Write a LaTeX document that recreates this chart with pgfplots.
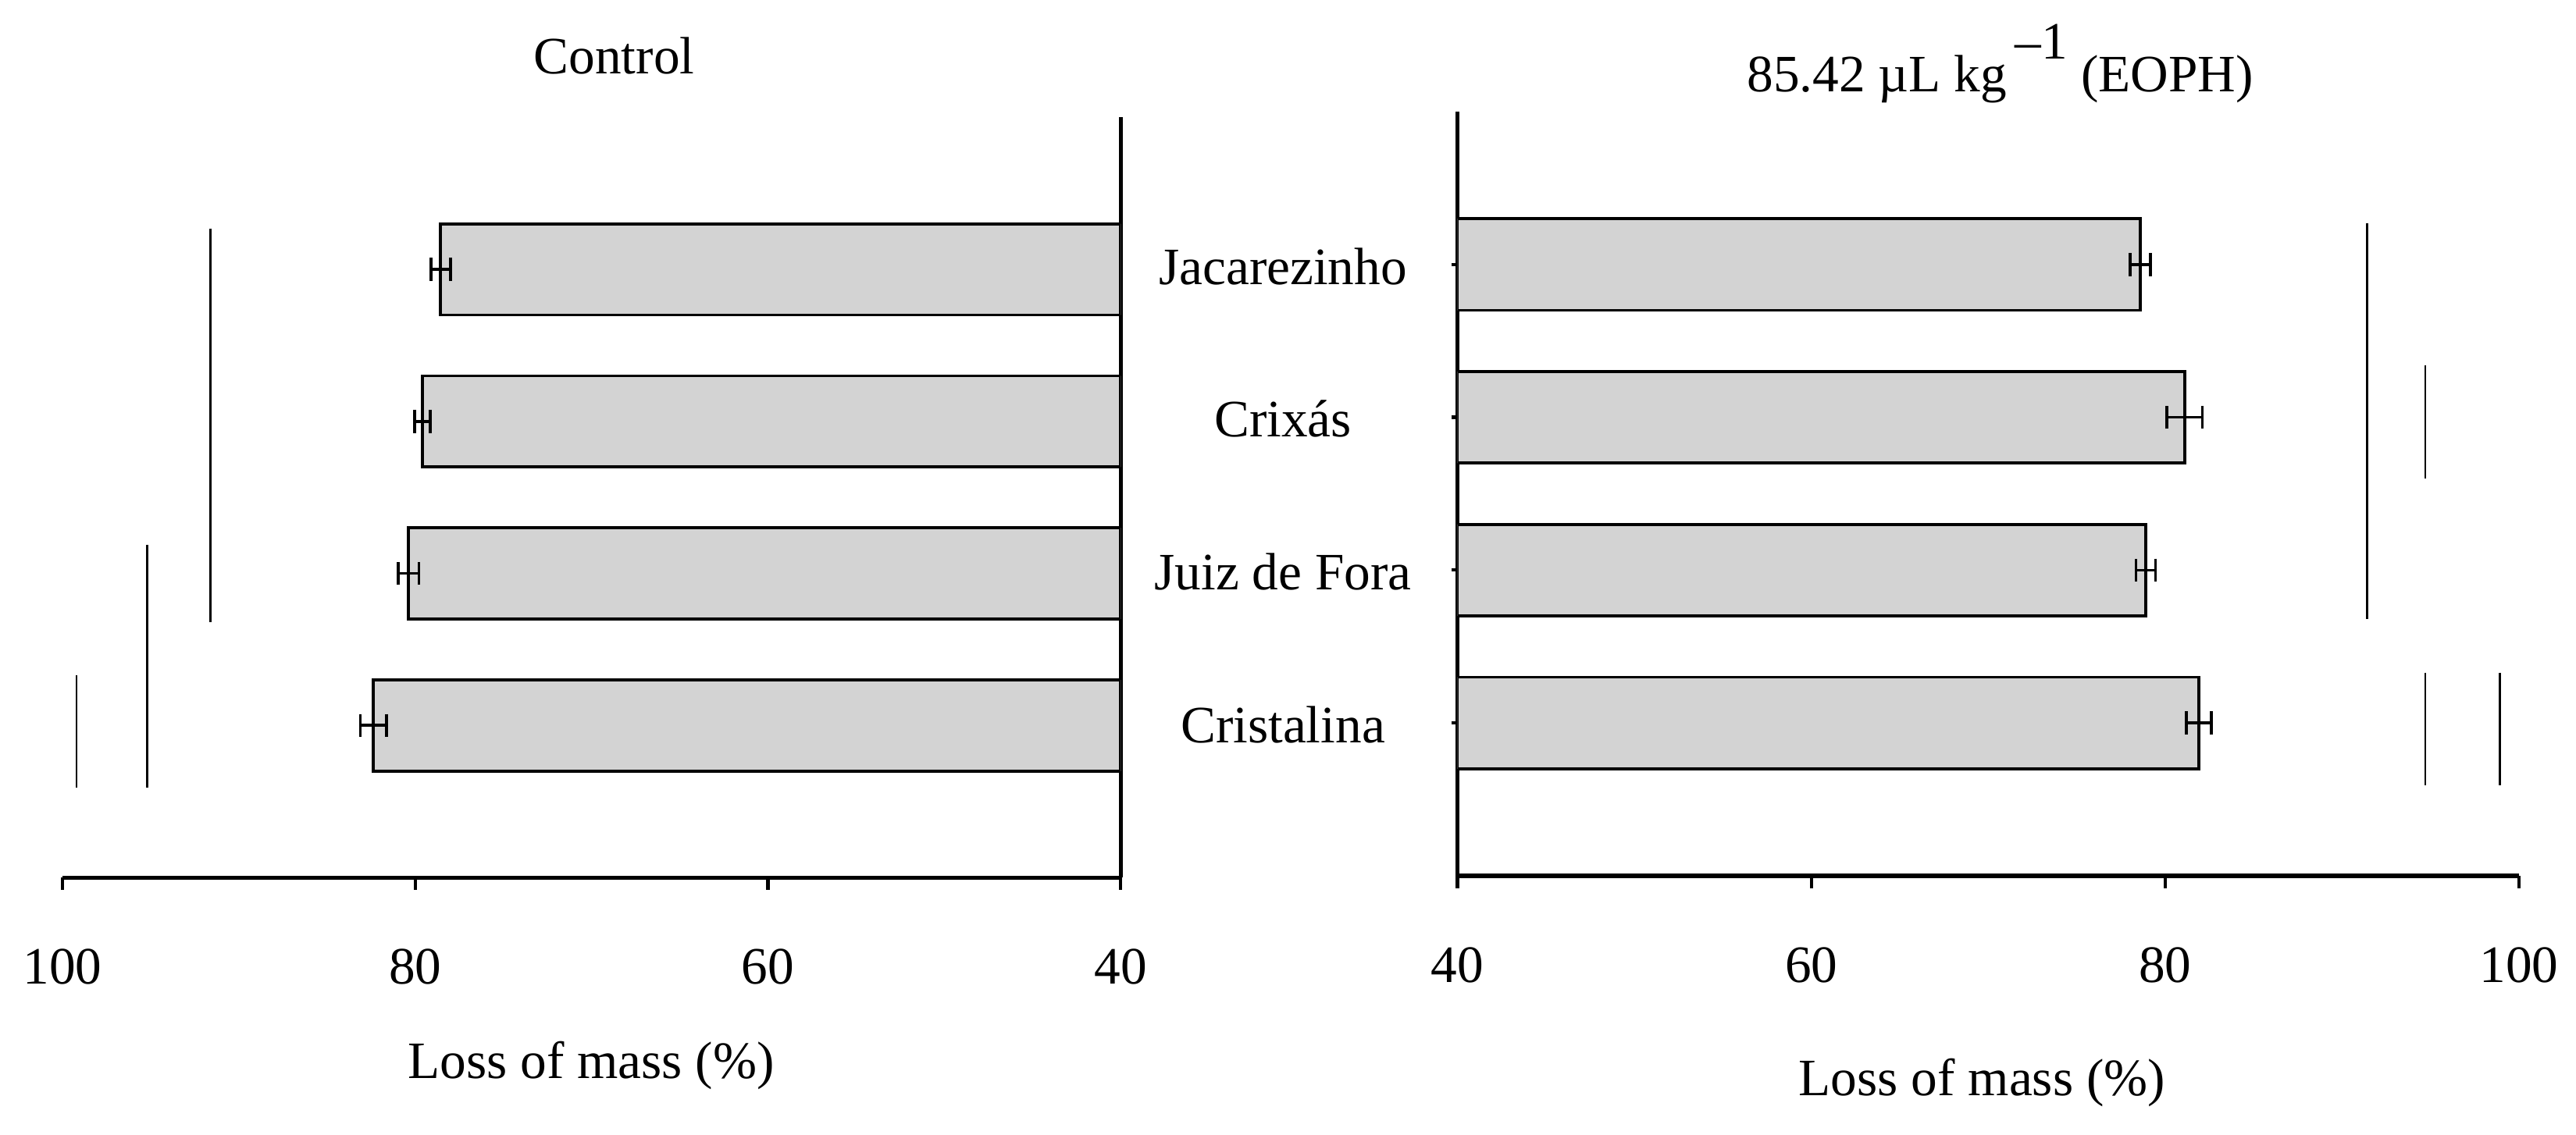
\documentclass[border=0pt]{standalone}
\usepackage{pgfplots}
\pgfplotsset{compat=1.18}
\usepackage{fontspec}
\setmainfont{Liberation Serif}
\definecolor{barfill}{RGB}{211,211,211}

\begin{document}
\fontsize{16pt}{19pt}\selectfont
\begin{tikzpicture}
% page frame, 784pt x 345.5pt
\path (0,0) rectangle (784pt,345.5pt);
\pgfplotsset{
  panel/.style={
    scale only axis, anchor=south west,
    ymin=0, ymax=5,
    axis x line=bottom,
    tick align=outside, major tick length=3.75pt,
    tick style={line width=1pt, black},
    xticklabel style={anchor=base, yshift=-28.75pt},
  },
  noarrows/.style={
    axis line style={-, line width=1.2pt},
    x axis line style={-}, y axis line style={-},
  },
  bars/.style={xbar, bar width=0.6, fill=barfill, draw=black, line width=0.9pt,
    error bars/x dir=both, error bars/x explicit,
    error bars/error mark=|,
    error bars/error bar style={line width=0.9pt},
    error bars/error mark options={line width=0.9pt, mark size=3.5pt}},
  letter/.style={black, line width=0.7pt, no marks},
}

% Control (axis drawn mirrored: negative values, labels positive)
\begin{axis}[panel, at={(19pt,78.25pt)}, width=322.25pt, height=231.5pt,
  xmin=-100, xmax=-40, axis y line=right, ytick=\empty,
  xtick={-100,-80,-60,-40}, xticklabels={100,80,60,40}, noarrows]
\addplot[bars] coordinates {
  (-78.56,4) +- (0.56,0)
  (-79.58,3) +- (0.45,0)
  (-80.37,2) +- (0.58,0)
  (-82.37,1) +- (0.74,0)
};
\addplot[letter] coordinates {(-91.6,4.27) (-91.6,1.68)};
\addplot[letter] coordinates {(-95.2,2.19) (-95.2,0.59)};
\addplot[letter] coordinates {(-99.2,1.33) (-99.2,0.59)};
\end{axis}

% EOPH
\begin{axis}[panel, at={(443.75pt,78.75pt)}, width=323.25pt, height=232.75pt,
  xmin=40, xmax=100, axis y line=left,
  ytick={1,2,3,4}, yticklabels={Cristalina,Juiz de Fora,Crixás,Jacarezinho},
  yticklabel style={anchor=base, xshift=-51.25pt, yshift=-6pt},
  xtick={40,60,80,100}, xticklabels={40,60,80,100}, noarrows]
\addplot[bars] coordinates {
  (78.6,4) +- (0.58,0)
  (81.1,3) +- (1.0,0)
  (78.9,2) +- (0.55,0)
  (81.9,1) +- (0.7,0)
};
\addplot[letter] coordinates {(91.4,4.27) (91.4,1.68)};
\addplot[letter] coordinates {(94.7,3.34) (94.7,2.60)};
\addplot[letter] coordinates {(94.7,1.33) (94.7,0.59)};
\addplot[letter] coordinates {(98.9,1.33) (98.9,0.59)};
\end{axis}

\node[anchor=base] at (187pt,323pt) {Control};
\node[anchor=base] at (609pt,317.5pt) {85.42 µL kg\,\raisebox{10pt}{–1} (EOPH)};
\node[anchor=base] at (180pt,17pt) {Loss of mass (\%)};
\node[anchor=base] at (603.5pt,11.75pt) {Loss of mass (\%)};
\end{tikzpicture}
\end{document}
